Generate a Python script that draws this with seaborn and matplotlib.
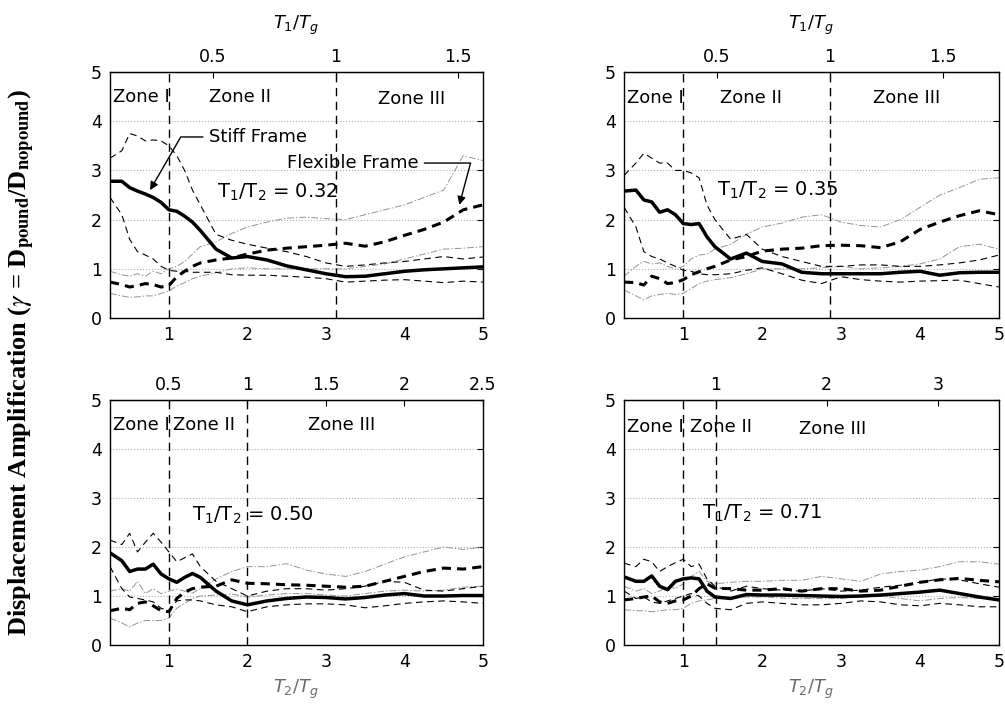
import matplotlib
matplotlib.use("Agg")
import matplotlib.pyplot as plt
import seaborn as sns

# ---------------- data ----------------
x_t2tg = [0.25, 0.4, 0.5, 0.6, 0.7, 0.8, 0.9, 1.0, 1.1, 1.2, 1.3, 1.4, 1.6, 1.8, 2.0,
          2.25, 2.5, 2.75, 3.0, 3.25, 3.5, 3.75, 4.0, 4.25, 4.5, 4.75, 5.0]

ratios = [0.32, 0.35, 0.50, 0.71]
ratio_labels = ["0.32", "0.35", "0.50", "0.71"]
top_ticks = [[0.5, 1, 1.5], [0.5, 1, 1.5], [0.5, 1, 1.5, 2, 2.5], [1, 2, 3]]
top_tick_labels = [["0.5", "1", "1.5"], ["0.5", "1", "1.5"],
                   ["0.5", "1", "1.5", "2", "2.5"], ["1", "2", "3"]]
bottom_ticks = [1, 2, 3, 4, 5]
left_ticks = [0, 1, 2, 3, 4, 5]

# panel 1: T1/T2 = 0.32
p1_stiff_mean = [2.78, 2.78, 2.65, 2.58, 2.52, 2.45, 2.35, 2.2, 2.17, 2.07, 1.95, 1.78, 1.4, 1.22, 1.25,
                 1.18, 1.06, 0.98, 0.9, 0.84, 0.85, 0.9, 0.95, 0.98, 1.0, 1.02, 1.04]
p1_stiff_upper = [3.25, 3.4, 3.75, 3.7, 3.6, 3.62, 3.6, 3.5, 3.3, 3.0, 2.6, 2.3, 1.7, 1.58, 1.5,
                  1.42, 1.35, 1.25, 1.12, 1.05, 1.08, 1.12, 1.15, 1.2, 1.25, 1.2, 1.24]
p1_stiff_lower = [2.45, 2.1, 1.6, 1.35, 1.28, 1.2, 1.05, 0.97, 0.95, 0.95, 0.93, 0.93, 0.93, 0.88, 0.87,
                  0.87, 0.85, 0.83, 0.8, 0.73, 0.75, 0.77, 0.78, 0.75, 0.72, 0.75, 0.73]
p1_flex_mean = [0.73, 0.68, 0.63, 0.66, 0.7, 0.68, 0.63, 0.66, 0.84, 0.95, 1.05, 1.12, 1.18, 1.22, 1.3,
                1.38, 1.42, 1.45, 1.48, 1.52, 1.46, 1.55, 1.68, 1.8, 1.95, 2.2, 2.3]
p1_flex_upper = [0.95, 0.88, 0.85, 0.9, 0.85, 0.95, 0.9, 1.0, 1.05, 1.15, 1.3, 1.45, 1.55, 1.72, 1.85,
                 1.95, 2.03, 2.05, 2.02, 2.0, 2.1, 2.2, 2.3, 2.45, 2.6, 3.3, 3.2]
p1_flex_lower = [0.5, 0.45, 0.42, 0.43, 0.45, 0.45, 0.5, 0.55, 0.65, 0.72, 0.8, 0.85, 0.92, 1.0, 1.02,
                 1.0, 1.0, 1.0, 1.0, 1.0, 1.05, 1.1, 1.2, 1.3, 1.4, 1.42, 1.45]

# panel 2: T1/T2 = 0.35
p2_stiff_mean = [2.58, 2.6, 2.4, 2.36, 2.15, 2.2, 2.1, 1.92, 1.9, 1.92, 1.65, 1.45, 1.2, 1.32, 1.15,
                 1.1, 0.93, 0.9, 0.9, 0.9, 0.9, 0.93, 0.95, 0.87, 0.92, 0.93, 0.93]
p2_stiff_upper = [2.9, 3.15, 3.35, 3.25, 3.15, 3.15, 3.0, 3.0, 2.95, 2.85, 2.3, 2.0, 1.6, 1.7, 1.4,
                  1.25, 1.15, 1.05, 1.05, 1.08, 1.08, 1.05, 1.05, 1.08, 1.12, 1.18, 1.28]
p2_stiff_lower = [2.25, 1.85, 1.35, 1.25, 1.2, 1.12, 1.05, 0.97, 0.95, 0.9, 0.88, 0.88, 0.9, 0.97, 1.02,
                  0.9, 0.77, 0.7, 0.84, 0.78, 0.75, 0.73, 0.75, 0.76, 0.77, 0.7, 0.63]
p2_flex_mean = [0.73, 0.72, 0.67, 0.85, 0.8, 0.7, 0.72, 0.78, 0.88, 0.94, 1.0, 1.05, 1.18, 1.25, 1.36,
                1.4, 1.42, 1.47, 1.48, 1.47, 1.43, 1.55, 1.8, 1.95, 2.08, 2.18, 2.1]
p2_flex_upper = [0.85, 1.05, 1.15, 1.1, 1.12, 1.05, 1.0, 1.05, 1.2, 1.28, 1.3, 1.4, 1.5, 1.7, 1.85,
                 1.93, 2.05, 2.1, 1.95, 1.88, 1.85, 2.0, 2.25, 2.5, 2.65, 2.82, 2.85]
p2_flex_lower = [0.57, 0.45, 0.37, 0.45, 0.48, 0.5, 0.48, 0.5, 0.6, 0.7, 0.75, 0.78, 0.82, 0.9, 1.0,
                 1.0, 1.0, 1.02, 1.05, 1.0, 1.02, 1.05, 1.1, 1.2, 1.45, 1.5, 1.4]

# panel 3: T1/T2 = 0.50
p3_stiff_mean = [1.88, 1.72, 1.5, 1.55, 1.55, 1.65, 1.45, 1.35, 1.28, 1.38, 1.46, 1.38, 1.1, 0.9, 0.82,
                 0.9, 0.95, 0.98, 0.97, 0.94, 0.97, 1.02, 1.05, 1.0, 1.0, 1.01, 1.01]
p3_stiff_upper = [2.14, 2.05, 2.28, 1.9, 2.1, 2.28, 2.1, 1.9, 1.7, 1.78, 1.86, 1.6, 1.3, 1.15, 1.0,
                  1.1, 1.15, 1.15, 1.12, 1.15, 1.2, 1.3, 1.28, 1.12, 1.1, 1.15, 1.2]
p3_stiff_lower = [1.6, 1.15, 0.98, 0.95, 0.92, 0.88, 0.75, 0.7, 0.9, 0.92, 0.92, 0.9, 0.82, 0.78, 0.68,
                  0.78, 0.82, 0.84, 0.84, 0.82, 0.76, 0.8, 0.85, 0.88, 0.9, 0.88, 0.85]
p3_flex_mean = [0.7, 0.75, 0.72, 0.85, 0.88, 0.8, 0.7, 0.68, 0.95, 1.08, 1.15, 1.18, 1.2, 1.33, 1.26,
                1.25, 1.23, 1.22, 1.2, 1.18, 1.2, 1.3, 1.4, 1.5, 1.57, 1.55, 1.6]
p3_flex_upper = [1.1, 1.15, 1.1, 1.3, 1.05, 1.15, 1.05, 1.1, 1.14, 1.1, 1.06, 1.15, 1.35, 1.5, 1.6,
                 1.6, 1.66, 1.53, 1.45, 1.4, 1.5, 1.65, 1.8, 1.9, 2.0, 1.95, 2.0]
p3_flex_lower = [0.55, 0.45, 0.37, 0.45, 0.5, 0.5, 0.5, 0.55, 0.75, 0.85, 0.95, 1.0, 1.02, 1.04, 0.98,
                 1.02, 1.05, 1.05, 1.02, 1.0, 1.05, 1.1, 1.12, 1.1, 1.12, 1.18, 1.2]

# panel 4: T1/T2 = 0.71
p4_stiff_mean = [1.39, 1.3, 1.3, 1.41, 1.2, 1.13, 1.3, 1.35, 1.37, 1.35, 1.1, 0.98, 0.95, 1.03, 1.02,
                 1.02, 1.01, 1.0, 0.99, 1.0, 1.02, 1.05, 1.08, 1.12, 1.05, 0.98, 0.92]
p4_stiff_upper = [1.67, 1.6, 1.75, 1.7, 1.5, 1.6, 1.68, 1.75, 1.6, 1.65, 1.35, 1.2, 1.1, 1.2, 1.15,
                  1.12, 1.1, 1.15, 1.1, 1.12, 1.18, 1.22, 1.28, 1.35, 1.33, 1.25, 1.18]
p4_stiff_lower = [1.1, 0.95, 0.98, 0.88, 0.85, 0.9, 0.95, 1.0, 1.05, 1.0, 0.85, 0.75, 0.72, 0.85, 0.88,
                  0.85, 0.82, 0.82, 0.85, 0.9, 0.88, 0.82, 0.8, 0.85, 0.82, 0.78, 0.78]
p4_flex_mean = [0.92, 0.95, 0.98, 1.0, 0.88, 0.85, 0.9, 0.92, 1.0, 1.15, 1.25, 1.16, 1.15, 1.12, 1.12,
                1.15, 1.1, 1.15, 1.15, 1.1, 1.12, 1.2, 1.28, 1.33, 1.36, 1.32, 1.29]
p4_flex_upper = [1.2, 1.1, 1.15, 1.05, 1.1, 1.2, 1.15, 1.25, 1.4, 1.5, 1.3, 1.25, 1.28, 1.3, 1.3,
                 1.32, 1.32, 1.4, 1.35, 1.3, 1.45, 1.5, 1.53, 1.6, 1.7, 1.7, 1.65]
p4_flex_lower = [0.72, 0.7, 0.7, 0.68, 0.7, 0.72, 0.72, 0.75, 0.85, 0.9, 0.92, 0.95, 0.95, 0.98, 0.98,
                 0.96, 0.95, 0.95, 0.95, 0.98, 1.0, 0.95, 0.9, 0.95, 0.97, 0.95, 0.93]

panels = [
    (p1_stiff_mean, p1_stiff_upper, p1_stiff_lower, p1_flex_mean, p1_flex_upper, p1_flex_lower),
    (p2_stiff_mean, p2_stiff_upper, p2_stiff_lower, p2_flex_mean, p2_flex_upper, p2_flex_lower),
    (p3_stiff_mean, p3_stiff_upper, p3_stiff_lower, p3_flex_mean, p3_flex_upper, p3_flex_lower),
    (p4_stiff_mean, p4_stiff_upper, p4_stiff_lower, p4_flex_mean, p4_flex_upper, p4_flex_lower),
]

# text placement (data coords)
zone_pos = [
    [(0.29, 4.49), (1.51, 4.49), (3.66, 4.45)],
    [(0.29, 4.47), (1.46, 4.47), (3.41, 4.47)],
    [(0.29, 4.50), (1.05, 4.50), (2.77, 4.50)],
    [(0.29, 4.45), (1.09, 4.45), (2.47, 4.40)],
]
ratio_text_pos = [(1.61, 2.56), (1.43, 2.60), (1.30, 2.65), (1.24, 2.69)]

# ---------------- style ----------------
sns.set_style("white")
plt.rcParams["font.family"] = ["DejaVu Sans"]
plt.rcParams["mathtext.fontset"] = "dejavusans"
plt.rcParams["text.color"] = "black"
plt.rcParams["axes.labelcolor"] = "black"
plt.rcParams["xtick.color"] = "black"
plt.rcParams["ytick.color"] = "black"

fig = plt.figure(figsize=(10.05, 7.11), dpi=100)
positions = [
    [0.1095, 0.5527, 0.371, 0.346],
    [0.621, 0.5527, 0.373, 0.346],
    [0.1095, 0.0928, 0.371, 0.3446],
    [0.621, 0.0928, 0.373, 0.3446],
]

for i, (pos, r, series) in enumerate(zip(positions, ratios, panels)):
    s_mean, s_up, s_lo, f_mean, f_up, f_lo = series
    ax = fig.add_axes(pos)
    ax.set_xlim(0.25, 5)
    ax.set_ylim(0, 5)
    ax.yaxis.grid(True, linestyle=":", color="#b0b0b0", linewidth=0.8)
    ax.set_axisbelow(True)

    grey = "#939393"
    sns.lineplot(x=x_t2tg, y=f_up, ax=ax, color=grey, linewidth=0.7, linestyle=(0, (7, 2, 1.5, 2)))
    sns.lineplot(x=x_t2tg, y=f_lo, ax=ax, color=grey, linewidth=0.7, linestyle=(0, (7, 2, 1.5, 2)))
    sns.lineplot(x=x_t2tg, y=s_up, ax=ax, color="black", linewidth=0.8, linestyle=(0, (6, 4)))
    sns.lineplot(x=x_t2tg, y=s_lo, ax=ax, color="black", linewidth=0.8, linestyle=(0, (6, 4)))
    sns.lineplot(x=x_t2tg, y=f_mean, ax=ax, color="black", linewidth=2.2, linestyle=(0, (3, 2)))
    sns.lineplot(x=x_t2tg, y=s_mean, ax=ax, color="black", linewidth=2.5, linestyle="-")

    ax.axvline(1.0, color="black", linewidth=1.0, linestyle=(0, (6, 4)))
    ax.axvline(1.0 / r, color="black", linewidth=1.0, linestyle=(0, (6, 4)))

    for (zx, zy), lab in zip(zone_pos[i], ["Zone I", "Zone II", "Zone III"]):
        ax.text(zx, zy, lab, fontsize=13, ha="left", va="center", color="black")
    tx, ty = ratio_text_pos[i]
    ax.text(tx, ty, r"T$_1$/T$_2$ = " + ratio_labels[i], fontsize=14, ha="left", va="center",
            color="black")

    ax.set_xticks(bottom_ticks)
    ax.set_yticks(left_ticks)
    ax.tick_params(direction="in", length=4, labelsize=12.5, pad=6, top=False, right=True,
                   colors="black")
    ax.set_xlabel("")
    ax.set_ylabel("")
    for sp in ax.spines.values():
        sp.set_color("black")
        sp.set_linewidth(1.0)

    secax = ax.secondary_xaxis("top", functions=(lambda v, r=r: v * r, lambda v, r=r: v / r))
    secax.set_xticks(top_ticks[i])
    secax.set_xticklabels(top_tick_labels[i])
    secax.tick_params(direction="in", length=4, labelsize=12.5, pad=4, colors="black")
    if i < 2:
        secax.set_xlabel(r"$T_1/T_g$", fontsize=13, labelpad=14, color="black")
    else:
        ax.set_xlabel(r"$T_2/T_g$", fontsize=13, color="#6a6a6a", labelpad=5)

    if i == 0:
        ax.annotate("Stiff Frame", xy=(0.76, 2.6), xytext=(1.51, 3.68), fontsize=13,
                    ha="left", va="center", color="black",
                    arrowprops=dict(arrowstyle="-|>", color="black", lw=1.0,
                                    connectionstyle="angle,angleA=0,angleB=60,rad=0",
                                    shrinkA=2, shrinkB=0, mutation_scale=12))
        ax.annotate("Flexible Frame", xy=(4.7, 2.3), xytext=(2.5, 3.15), fontsize=13,
                    ha="left", va="center", color="black",
                    arrowprops=dict(arrowstyle="-|>", color="black", lw=1.0,
                                    connectionstyle="angle,angleA=0,angleB=75,rad=0",
                                    shrinkA=2, shrinkB=0, mutation_scale=12))

fig.text(0.022, 0.49,
         r"Displacement Amplification ($\gamma$ = D$_{\mathbf{pound}}$/D$_{\mathbf{nopound}}$)",
         rotation=90, ha="center", va="center", fontsize=19, fontweight="bold", color="black",
         family=["Liberation Serif", "DejaVu Serif"], math_fontfamily="stix")

fig.savefig("out.png", dpi=100)
